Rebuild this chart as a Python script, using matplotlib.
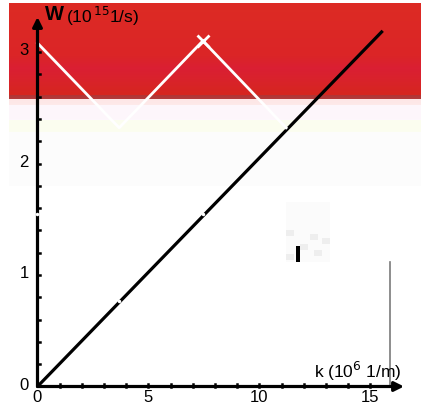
import numpy as np
import matplotlib.pyplot as plt
from matplotlib.colors import to_rgb

# data (k in 10^6 1/m, W in 10^15 1/s)
line_k = [0, 15.55]
line_w = [0, 3.19]
zig_k = [0, 3.68, 7.45, 11.2]
zig_w = [3.08, 2.32, 3.10, 2.32]
gap_k = [0, 3.68, 7.45]
gap_w = [1.55, 0.77, 1.55]
xticks_major = [0, 5, 10, 15]
yticks_major = [0, 1, 2, 3]

# pixel mapping of the original picture
PX_X0, PX_PER_K = 37.5, 22.2
PX_Y0, PX_PER_W = 386.5, 111.5
W_PX, H_PX = 421, 405

def kx(px):
    return (px - PX_X0) / PX_PER_K

def wy(py):
    return (PX_Y0 - py) / PX_PER_W

fig = plt.figure(figsize=(4.21, 4.05), dpi=100)
ax = fig.add_axes([0, 0, 1, 1])
ax.set_xlim(kx(0), kx(W_PX))
ax.set_ylim(wy(H_PX), wy(0))
ax.axis('off')

# red band at top with pale stripes beneath
stops = [(3, '#dd2b24'), (55, '#db2527'), (68, '#da1f33'), (78, '#d9222c'),
         (94, '#d6261f'), (95, '#b23434'), (98, '#b33a3a'), (99, '#fde6e6'),
         (104, '#fde9e9'), (105, '#fdf6fb'), (119, '#fdf7fc'), (120, '#fbfdef'),
         (131, '#fbfdf0'), (132, '#fcfcfc'), (185, '#fcfcfc'), (186, '#ffffff')]
rows = np.arange(3, 187)
sp = np.array([s[0] for s in stops])
cols = np.array([to_rgb(s[1]) for s in stops])
img = np.stack([np.interp(rows, sp, cols[:, i]) for i in range(3)], axis=-1)[:, None, :]
ax.imshow(img, extent=(kx(9), kx(W_PX), wy(187), wy(3)), aspect='auto',
          interpolation='nearest', zorder=0)

# small grey artifact
ax.add_patch(plt.Rectangle((kx(286), wy(262)), kx(330) - kx(286), wy(202) - wy(262),
                           color='#fbfbfb', lw=0, zorder=1))
for px, py in [(286, 230), (310, 234), (322, 238), (300, 244), (314, 250), (286, 254)]:
    ax.add_patch(plt.Rectangle((kx(px), wy(py + 6)), kx(px + 8) - kx(px), wy(py) - wy(py + 6),
                               color='#eeeeee', lw=0, zorder=1))
ax.add_patch(plt.Rectangle((kx(296), wy(262)), kx(300) - kx(296), wy(246) - wy(262),
                           color='black', lw=0, zorder=1))
ax.plot([kx(390), kx(390)], [wy(262), 0], color='#7a7a7a', lw=1.2, zorder=1)

# lines
ax.plot(line_k, line_w, color='black', lw=2.3, solid_capstyle='butt', zorder=3)
ax.plot(zig_k, zig_w, color='white', lw=2.0, zorder=4)
ax.plot([zig_k[2]], [zig_w[2]], marker='x', color='white', ms=9, mew=2, zorder=4)

# axes with arrows
ax.annotate('', xy=(kx(404), 0), xytext=(0, 0),
            arrowprops=dict(arrowstyle='-|>', color='black', lw=2.3,
                            mutation_scale=14, shrinkA=0, shrinkB=0), zorder=5)
ax.annotate('', xy=(0, wy(17)), xytext=(0, 0),
            arrowprops=dict(arrowstyle='-|>', color='black', lw=2.3,
                            mutation_scale=14, shrinkA=0, shrinkB=0), zorder=5)

# minor tick dots
for k in range(1, 16):
    ax.plot([k, k], [0, 0.025], color='black', lw=1.8, zorder=5)
for w in np.arange(0.2, 3.01, 0.2):
    ax.plot([0, 0.12], [w, w], color='black', lw=1.8, zorder=5)

# white marks where lines cross
for k, w in zip(gap_k, gap_w):
    ax.plot([k], [w], marker='o', color='white', ms=2.5, mew=0, zorder=6)

# tick labels
for k in xticks_major:
    ax.text(k, wy(397), str(k), ha='center', va='center', fontsize=12,
            family='Liberation Sans')
for w in yticks_major:
    ax.text(kx(24), w + (0.01 if w else 0.012), str(w), ha='center', va='center',
            fontsize=12, family='Liberation Sans')

# axis titles
ax.text(kx(45), wy(15), 'W', fontsize=14.5, fontweight='bold', ha='left',
        va='center', family='Liberation Sans')
ax.text(kx(66), wy(16), r'(10$^{\,15}$1/s)', fontsize=12.5, ha='left',
        va='center', family='Liberation Sans')
ax.text(kx(314), wy(371), r'k (10$^{6}$ 1/m)', fontsize=12.5, ha='left',
        va='center', family='Liberation Sans')

fig.savefig('out.png', dpi=100)
